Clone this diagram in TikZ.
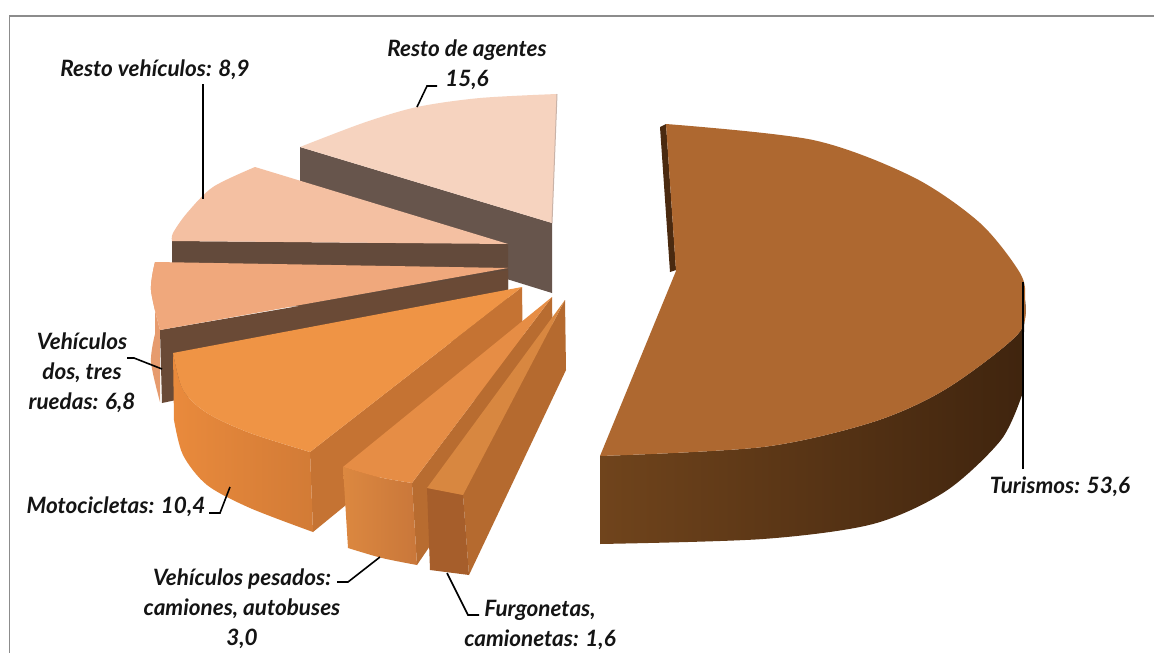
\documentclass[tikz,border=0pt]{standalone}
\usepackage{fontspec}
\setmainfont{Lato}
\usetikzlibrary{positioning}

\definecolor{frameGray}{HTML}{8C8C8C}
\definecolor{agentesTop}{HTML}{F6D3BF}
\definecolor{agentesEdge}{HTML}{C9B3A8}
\definecolor{agentesCut}{HTML}{67554C}
\definecolor{restoTop}{HTML}{F4C0A2}
\definecolor{restoCut}{HTML}{634A3B}
\definecolor{dostresTop}{HTML}{F0A87C}
\definecolor{dostresRim}{HTML}{E69B6E}
\definecolor{dostresCut}{HTML}{6A4A36}
\definecolor{motoTop}{HTML}{EF9445}
\definecolor{motoRimL}{HTML}{E98A3C}
\definecolor{motoRimR}{HTML}{D27B36}
\definecolor{motoCut}{HTML}{C57333}
\definecolor{pesadosTop}{HTML}{E68D45}
\definecolor{pesadosFrontL}{HTML}{DC8840}
\definecolor{pesadosFrontR}{HTML}{C9773A}
\definecolor{pesadosCut}{HTML}{B86C30}
\definecolor{furgoTop}{HTML}{D88740}
\definecolor{furgoFront}{HTML}{A65E2B}
\definecolor{furgoCut}{HTML}{B56A2F}
\definecolor{turTop}{HTML}{AE6830}
\definecolor{turSliver}{HTML}{4A2A10}
\definecolor{turSideL}{HTML}{70441C}
\definecolor{turSideR}{HTML}{3F240E}

\begin{document}
\begin{tikzpicture}[%
    x=1pt,
    y=-1pt,
    lbl/.style={%
      font=\fontsize{22.5}{30}\selectfont\bfseries\itshape,
      text=black!92,
      align=center,
      inner sep=0pt
    },
    leader/.style={draw=black, line width=1.6pt},
    thickleader/.style={draw=black, line width=2.6pt}
  ]
    \useasboundingbox (0,0) rectangle (1154,653);
    \fill[white] (0,0) rectangle (1154,653);
    \draw[frameGray, line width=1.5pt] (9.5,653) -- (9.5,16) -- (1154,16);

    % resto de agentes
    \fill[agentesCut] (300,147) -- (552,223) -- (552,293) -- (300,215) -- cycle;
    \fill[agentesTop] plot[smooth] coordinates {(557,94) (480,98) (417,107) (363,123) (300,147)}
      -- (552,223) -- cycle;
    \draw[agentesEdge, line width=1pt] (557,94) -- (552,223);

    % resto vehiculos
    \fill[restoCut] (172,241) -- (508,244) -- (508,300) -- (172,310) -- cycle;
    \fill[restoTop] plot[smooth] coordinates {(255,167) (213,187) (187,213) (173,233) (172,241)}
      -- (508,244) -- cycle;

    % dos, tres ruedas
    \fill[dostresRim] plot[smooth] coordinates {(155,262) (151,290) (160,330)}
      -- plot[smooth] coordinates {(160,402) (151,362) (155,334)} -- cycle;
    \fill[dostresCut] (160,330) -- (508,270) -- (508,330) -- (162,403) -- cycle;
    \fill[dostresTop] plot[smooth] coordinates {(155,262) (151,290) (160,330)}
      -- (508,268) -- cycle;

    % motocicletas
    \fill[motoCut] (310,452) -- (522,287) -- (523,360) -- (313,532) -- cycle;
    \shade[left color=motoRimL, right color=motoRimR]
      plot[smooth] coordinates {(173,353) (183,390) (207,413) (250,433) (310,452)}
      -- plot[smooth] coordinates {(313,532) (250,508) (207,485) (183,455) (174,420)} -- cycle;
    \fill[motoTop] plot[smooth] coordinates {(173,353) (183,390) (207,413) (250,433) (310,452)}
      -- (522,287) -- cycle;

    % pesados
    \fill[pesadosCut] (412,483) -- (552,297) -- (553,365) -- (417,565) -- cycle;
    \shade[left color=pesadosFrontL, right color=pesadosFrontR]
      plot[smooth] coordinates {(343,467) (378,477) (412,483)}
      -- plot[smooth] coordinates {(417,565) (382,558) (348,548)} -- cycle;
    \fill[pesadosTop] plot[smooth] coordinates {(343,467) (378,477) (412,483)}
      -- (552,297) -- cycle;

    % furgonetas
    \fill[furgoCut] (463,495) -- (565,300) -- (566,370) -- (469,575) -- cycle;
    \fill[furgoFront] (427,488) -- (463,495) -- (469,575) -- (430,570) -- cycle;
    \fill[furgoTop] (427,488) -- (565,300) -- (463,495) -- cycle;

    % turismos
    \fill[turSliver] (660,127) -- (666,124) -- (676,270) -- (670,272) -- cycle;
    \shade[left color=turSideL, right color=turSideR]
      plot[smooth] coordinates {(1025,300) (1018,334) (946,389) (873,422) (763,447) (600,456)}
      -- plot[smooth] coordinates {(600,544) (763,539) (873,524) (946,491) (1001,440) (1022,395)}
      -- cycle;
    \fill[turTop] plot[smooth] coordinates {(666,124) (813,140) (913,177) (980,223) (1020,273)
      (1025,300) (1018,334) (946,389) (873,422) (763,447) (600,456)}
      -- (676,271) -- cycle;

    % labels
    \node[lbl] (agentes)  at (467,65)  {Resto de agentes\\15,6};
    \node[lbl] (restoveh) at (155,70)  {Resto vehículos: 8,9};
    \node[lbl] (dostres)  at (82,373)  {Vehículos\\dos, tres\\ruedas: 6,8};
    \node[lbl] (moto)     at (116,507) {Motocicletas: 10,4};
    \node[lbl] (pesados)  at (242,609) {Vehículos pesados:\\camiones, autobuses\\3,0};
    \node[lbl] (furgo)    at (540,625) {Furgonetas,\\camionetas: 1,6};
    \node[lbl] (turismos) at (1060,487) {Turismos: 53,6};

    % leaders
    \coordinate (tipAgentes)  at (417,107);
    \coordinate (tipRestoVeh) at (203,199);
    \coordinate (tipDosTres)  at (162,369);
    \coordinate (tipMoto)     at (230,487);
    \coordinate (tipPesados)  at (380,557);
    \coordinate (tipFurgo)    at (447,573);
    \coordinate (tipTurismos) at (1023,282);

    \draw[leader] (437,86) -- (427,86) -- (tipAgentes);
    \draw[thickleader] (203,84) -- (tipRestoVeh);
    \draw[leader] (127,358) -- (134,358) -- (tipDosTres);
    \draw[leader] (209,513) -- (220,513) -- (tipMoto);
    \draw[leader] (337,582) -- (348,582) -- (tipPesados);
    \draw[leader] (479,615) -- (468,615) -- (tipFurgo);
    \draw[thickleader] (1023,469) -- (tipTurismos);
\end{tikzpicture}
\end{document}
